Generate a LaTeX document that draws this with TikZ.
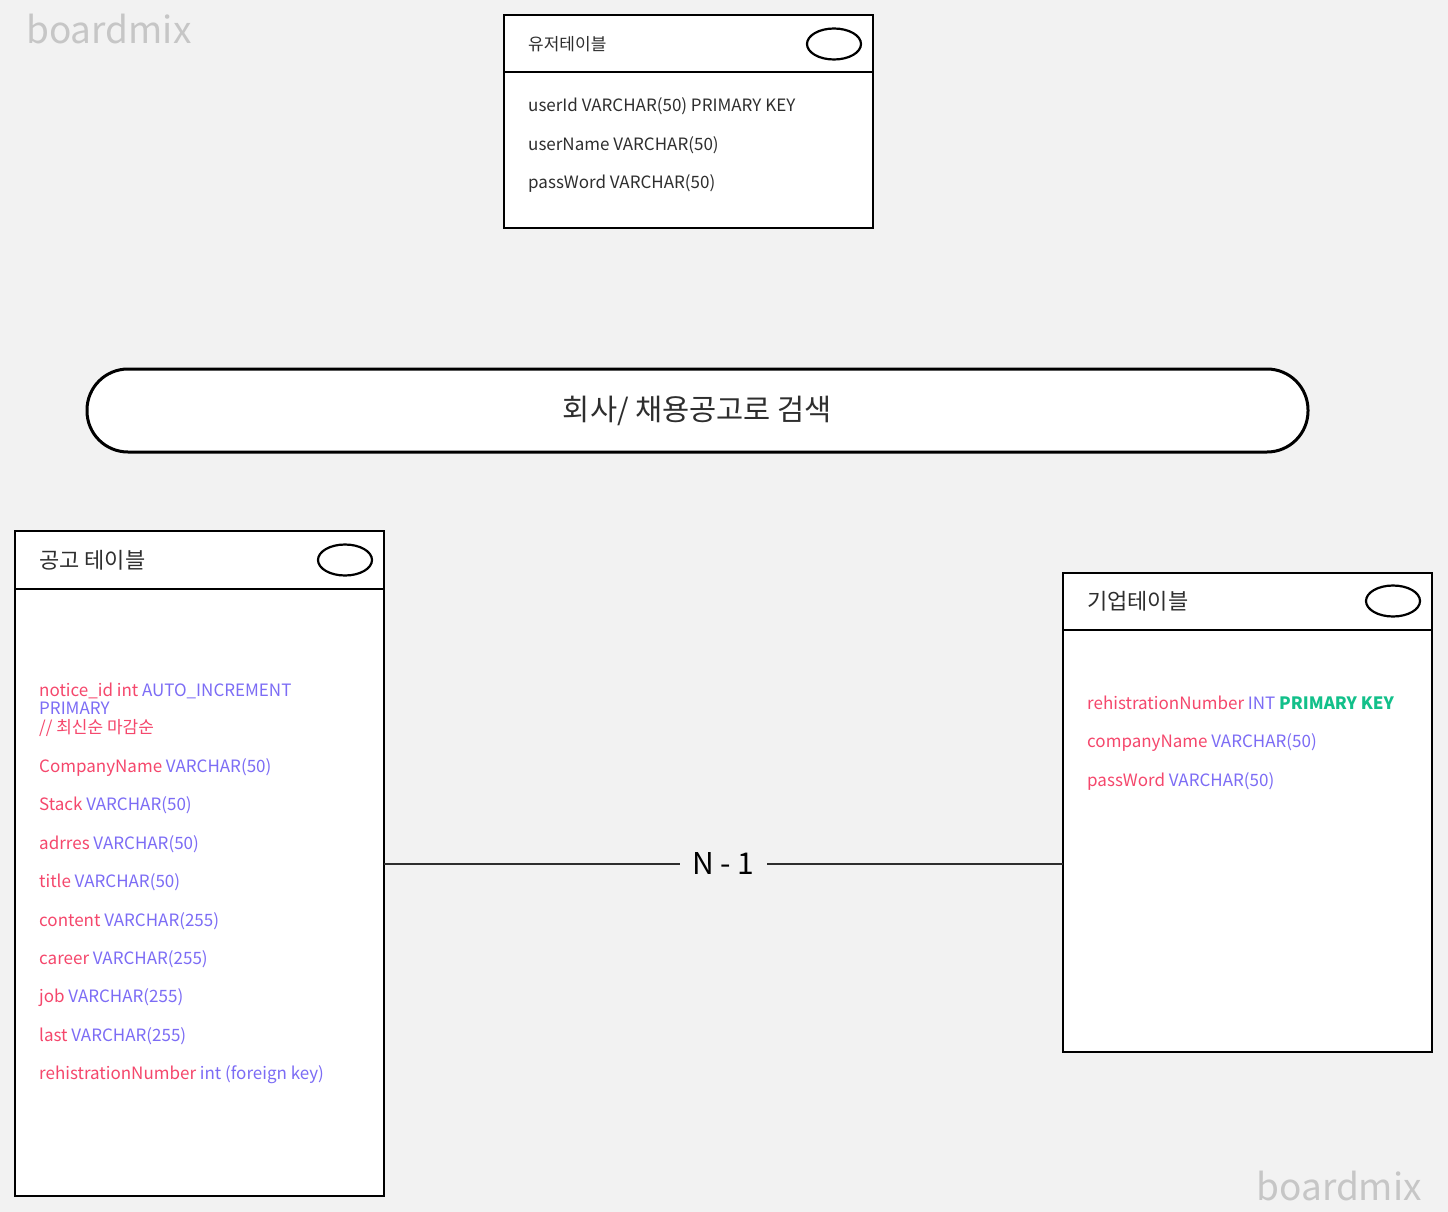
\documentclass[tikz,border=0pt]{standalone}
\usepackage{fontspec}
\setmainfont{Noto Sans CJK KR}
\usetikzlibrary{positioning,shapes.geometric}
\definecolor{bg}{HTML}{F2F2F2}
\definecolor{ink}{HTML}{2E2E2E}
\definecolor{fname}{HTML}{F5476C}
\definecolor{ftype}{HTML}{7C6CF5}
\definecolor{fkey}{HTML}{12C08A}
\definecolor{wmark}{HTML}{C6C6C6}
\newcommand{\fld}[2]{\textcolor{fname}{#1} \textcolor{ftype}{#2}}
\tikzset{
    table/.style =  {rectangle,
                    fill=white,
                    draw=black,
                    line width=2.5pt,
                    inner sep=0pt,
                    outer sep=0pt,
                    anchor=north west},
    key/.style =    {ellipse,
                    fill=white,
                    draw=black,
                    line width=2.2pt,
                    inner sep=0pt,
                    minimum width=54pt,
                    minimum height=31pt},
    title/.style =  {text=ink,
                    inner sep=0pt,
                    anchor=west,
                    font=\fontsize{22}{26}\selectfont},
    row/.style =    {text=ink,
                    inner sep=0pt,
                    anchor=west,
                    text height=13pt,
                    text depth=4pt,
                    font=\fontsize{17}{21}\selectfont},
    search/.style = {rectangle,
                    rounded corners=41pt,
                    fill=white,
                    draw=black,
                    line width=3pt,
                    outer sep=0pt,
                    minimum width=1221pt,
                    minimum height=83pt,
                    text=ink,
                    font=\fontsize{29.5}{34}\selectfont},
    wm/.style =     {text=wmark,
                    inner sep=0pt,
                    font=\fontsize{37}{42}\selectfont},
    link/.style =   {draw=ink,
                    line width=2pt},
    x=1pt, y=-1pt
}

\begin{document}
\begin{tikzpicture}
    \fill[bg] (0,0) rectangle (1448,1212);
    \node[wm, anchor=base west] (wm1) at (26,44) {boardmix};
    \node[wm, anchor=base east] (wm2) at (1422,1200) {boardmix};

    % user table
    \node[table, minimum width=369pt, minimum height=213pt] (user) at (504,15) {};
    \draw[line width=2.5pt] ([yshift=-57pt]user.north west) -- ([yshift=-57pt]user.north east);
    \node[title, font=\fontsize{17}{20}\selectfont] (userT) at ([xshift=24pt,yshift=-29pt]user.north west) {유저테이블};
    \node[key] (userK) at ([xshift=-39pt,yshift=-29pt]user.north east) {};
    \node[row] (u1) at ([xshift=24pt,yshift=-92.5pt]user.north west) {userId VARCHAR(50) PRIMARY KEY};
    \node[row] (u2) [below=38.4pt of u1.west, anchor=west] {userName VARCHAR(50)};
    \node[row] (u3) [below=38.4pt of u2.west, anchor=west] {passWord VARCHAR(50)};

    % search bar
    \node[search] (find) at (697.5,410.5) {회사/ 채용공고로 검색};

    % notice table
    \node[table, minimum width=369pt, minimum height=665pt] (ann) at (15,531) {};
    \draw[line width=2.5pt] ([yshift=-58pt]ann.north west) -- ([yshift=-58pt]ann.north east);
    \node[title] (annT) at ([xshift=24pt,yshift=-29pt]ann.north west) {공고 테이블};
    \node[key] (annK) at ([xshift=-39pt,yshift=-29pt]ann.north east) {};
    \node[row] (a1) at ([xshift=24pt,yshift=-160.5pt]ann.north west) {\fld{notice\_id int}{AUTO\_INCREMENT}};
    \node[row, text=ftype] (a2) [below=18.5pt of a1.west, anchor=west] {PRIMARY};
    \node[row, text=fname] (a3) [below=19pt of a2.west, anchor=west] {// 최신순 마감순};
    \node[row] (a4) [below=39pt of a3.west, anchor=west] {\fld{CompanyName}{VARCHAR(50)}};
    \node[row] (a5) [below=38.4pt of a4.west, anchor=west] {\fld{Stack}{VARCHAR(50)}};
    \node[row] (a6) [below=38.4pt of a5.west, anchor=west] {\fld{adrres}{VARCHAR(50)}};
    \node[row] (a7) [below=38.4pt of a6.west, anchor=west] {\fld{title}{VARCHAR(50)}};
    \node[row] (a8) [below=38.4pt of a7.west, anchor=west] {\fld{content}{VARCHAR(255)}};
    \node[row] (a9) [below=38.4pt of a8.west, anchor=west] {\fld{career}{VARCHAR(255)}};
    \node[row] (a10) [below=38.4pt of a9.west, anchor=west] {\fld{job}{VARCHAR(255)}};
    \node[row] (a11) [below=38.4pt of a10.west, anchor=west] {\fld{last}{VARCHAR(255)}};
    \node[row] (a12) [below=38.4pt of a11.west, anchor=west] {\fld{rehistrationNumber}{int (foreign key)}};

    % company table
    \node[table, minimum width=369pt, minimum height=479pt] (comp) at (1063,573) {};
    \draw[line width=2.5pt] ([yshift=-57pt]comp.north west) -- ([yshift=-57pt]comp.north east);
    \node[title] (compT) at ([xshift=24pt,yshift=-28pt]comp.north west) {기업테이블};
    \node[key] (compK) at ([xshift=-39pt,yshift=-28pt]comp.north east) {};
    \node[row] (c1) at ([xshift=24pt,yshift=-131.5pt]comp.north west) {\fld{rehistrationNumber}{INT} \textcolor{fkey}{\bfseries PRIMARY KEY}};
    \node[row] (c2) [below=38.5pt of c1.west, anchor=west] {\fld{companyName}{VARCHAR(50)}};
    \node[row] (c3) [below=38.5pt of c2.west, anchor=west] {\fld{passWord}{VARCHAR(50)}};

    % relation
    \path[link] (ann.east) edge node[fill=bg, text=black, inner xsep=12pt, font=\fontsize{30}{34}\selectfont] {N - 1} (ann.east -| comp.west);
\end{tikzpicture}
\end{document}
